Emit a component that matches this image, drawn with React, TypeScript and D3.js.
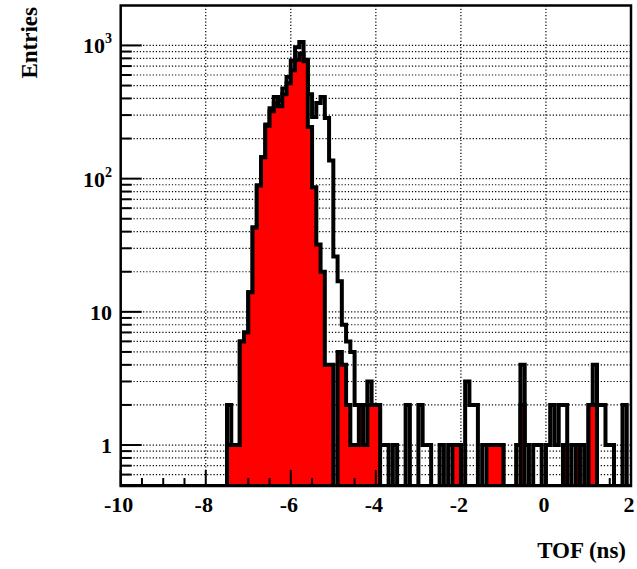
import React from "react";
import * as d3 from "d3";

// Histogram definition: 120 bins of 0.1 ns between -10 and 2 ns
const X_MIN = -10;
const X_MAX = 2;
const BIN_WIDTH = 0.1;
const Y_MIN = 0.4925;
const Y_MAX = 1995;

// All entries (open black histogram), one value per 0.1 ns bin
const allCounts: number[] = [
  0, 0, 0, 0, 0, 0, 0, 0, 0, 0, 0, 0, 0, 0, 0, 0, 0, 0, 0, 0, 0, 0, 0, 0, 0,
  2, 1, 1, 6, 7, 14, 43, 89, 145, 255,
  337, 410, 385, 475, 580, 770, 970, 1060, 780, 430,
  290, 370, 410, 285, 137, 26, 17, 8, 6, 5,
  2, 2, 2, 3, 2, 2, 1, 1, 0, 1,
  0, 0, 2, 0, 0, 2, 1, 1, 0, 0,
  1, 0, 1, 1, 1, 0, 3, 2, 2, 0,
  1, 1, 1, 1, 1, 0, 0, 0, 1, 4,
  1, 0, 1, 1, 0, 1, 2, 1, 2, 2,
  0, 1, 1, 1, 0, 2, 4, 2, 2, 1,
  1, 0, 0, 2, 0,
];

// Selected entries (red filled histogram)
const selCounts: number[] = [
  0, 0, 0, 0, 0, 0, 0, 0, 0, 0, 0, 0, 0, 0, 0, 0, 0, 0, 0, 0, 0, 0, 0, 0, 0,
  1, 1, 1, 6, 7, 14, 43, 89, 145, 250,
  320, 370, 350, 430, 520, 650, 780, 870, 760, 244,
  86, 32, 20, 4, 4, 0, 5, 4, 2, 1,
  1, 2, 1, 2, 2, 2, 0, 0, 0, 0,
  0, 0, 0, 0, 0, 0, 0, 0, 0, 0,
  0, 0, 0, 1, 1, 0, 0, 0, 0, 0,
  0, 1, 1, 1, 1, 0, 0, 0, 0, 2,
  0, 0, 0, 0, 0, 0, 0, 0, 0, 1,
  0, 0, 1, 0, 0, 2, 2, 0, 0, 0,
  0, 0, 0, 0, 0,
];

const xMajorTicks = [-10, -8, -6, -4, -2, 0, 2];
const xTickLabels = ["-10", "-8", "-6", "-4", "-2", "0", "2"];
const yMajorTicks = [1, 10, 100, 1000];
const yTickBase = ["1", "10", "10", "10"];
const yTickExp = ["", "", "2", "3"];

const W = 637;
const H = 569;
const FL = 120.7;
const FR = 631;
const FT = 5.5;
const FB = 486;

const FONT = "'Liberation Serif', 'Times New Roman', serif";

export default function App() {
  const x = d3.scaleLinear().domain([X_MIN, X_MAX]).range([FL, FR]);
  const y = d3.scaleLog().domain([Y_MIN, Y_MAX]).range([FB, FT]);

  const nBins = Math.round((X_MAX - X_MIN) / BIN_WIDTH);
  const edge = (i: number) => x(X_MIN + i * BIN_WIDTH);
  const level = (v: number) => (v > 0 ? y(v) : FB);

  const stepPath = (vals: number[], close: boolean) => {
    const p = d3.path();
    p.moveTo(edge(0), FB);
    for (let i = 0; i < nBins; i++) {
      const yy = level(vals[i] ?? 0);
      p.lineTo(edge(i), yy);
      p.lineTo(edge(i + 1), yy);
    }
    p.lineTo(edge(nBins), FB);
    if (close) p.closePath();
    return p.toString();
  };

  // minor log ticks
  const yMinor: number[] = [];
  for (const d of [0.1, 1, 10, 100, 1000]) {
    for (let k = 2; k <= 9; k++) {
      const v = k * d;
      if (v > Y_MIN && v < Y_MAX) yMinor.push(v);
    }
  }
  const yGrid = [...yMajorTicks, ...yMinor];
  const xMinor = d3.range(X_MIN, X_MAX + 0.001, 0.5).filter(
    (v) => Math.abs(v / 2 - Math.round(v / 2)) > 1e-6
  );
  const xGrid = xMajorTicks.filter((v) => v > X_MIN && v < X_MAX);

  return (
    <svg
      width={W}
      height={H}
      style={{ position: "fixed", left: 0, top: 0, background: "#fff" }}
    >
      <defs>
        <clipPath id="frameClip">
          <rect x={FL} y={FT} width={FR - FL} height={FB - FT} />
        </clipPath>
      </defs>
      <rect x={0} y={0} width={W} height={H} fill="#fff" />

      {/* grid */}
      <g stroke="#000" strokeWidth={1.2} strokeDasharray="1.2 2" fill="none">
        {yGrid.map((v, i) => (
          <line key={"gy" + i} x1={FL} x2={FR} y1={y(v)} y2={y(v)} />
        ))}
        {xGrid.map((v, i) => (
          <line key={"gx" + i} x1={x(v)} x2={x(v)} y1={FT} y2={FB} />
        ))}
      </g>

      {/* histograms */}
      <g clipPath="url(#frameClip)">
        <path
          d={stepPath(allCounts, false)}
          fill="none"
          stroke="#000"
          strokeWidth={4}
          strokeLinejoin="miter"
        />
        <path
          d={stepPath(selCounts, true)}
          fill="#ff0000"
          stroke="#000"
          strokeWidth={4}
          strokeLinejoin="miter"
        />
      </g>

      {/* frame */}
      <rect
        x={FL}
        y={FT}
        width={FR - FL}
        height={FB - FT}
        fill="none"
        stroke="#000"
        strokeWidth={2.5}
      />

      {/* ticks */}
      <g stroke="#000" strokeWidth={2}>
        {yMajorTicks.map((v, i) => (
          <line key={"yt" + i} x1={FL} x2={FL + 21} y1={y(v)} y2={y(v)} />
        ))}
        {yMinor.map((v, i) => (
          <line key={"ym" + i} x1={FL} x2={FL + 11} y1={y(v)} y2={y(v)} />
        ))}
        {xMajorTicks.map((v, i) => (
          <line key={"xt" + i} x1={x(v)} x2={x(v)} y1={FB} y2={FB - 16} />
        ))}
        {xMinor.map((v, i) => (
          <line key={"xm" + i} x1={x(v)} x2={x(v)} y1={FB} y2={FB - 8} />
        ))}
      </g>

      {/* tick labels */}
      <g fontFamily={FONT} fontWeight="bold" fontSize={22} fill="#000">
        {xMajorTicks.map((v, i) => (
          <text key={"xl" + i} x={x(v) - 2} y={512} textAnchor="middle">
            {xTickLabels[i]}
          </text>
        ))}
        {yMajorTicks.map((v, i) => (
          <text key={"yl" + i} x={112} y={y(v) + 8} textAnchor="end">
            {yTickBase[i]}
            {yTickExp[i] ? (
              <tspan fontSize={14} dy={-10}>
                {yTickExp[i]}
              </tspan>
            ) : null}
          </text>
        ))}
      </g>

      {/* axis titles */}
      <g fontFamily={FONT} fontWeight="bold" fontSize={23} fill="#000">
        <text x={626} y={558} textAnchor="end">
          TOF (ns)
        </text>
        <text transform="translate(37, 7) rotate(-90)" textAnchor="end">
          Entries
        </text>
      </g>
    </svg>
  );
}
